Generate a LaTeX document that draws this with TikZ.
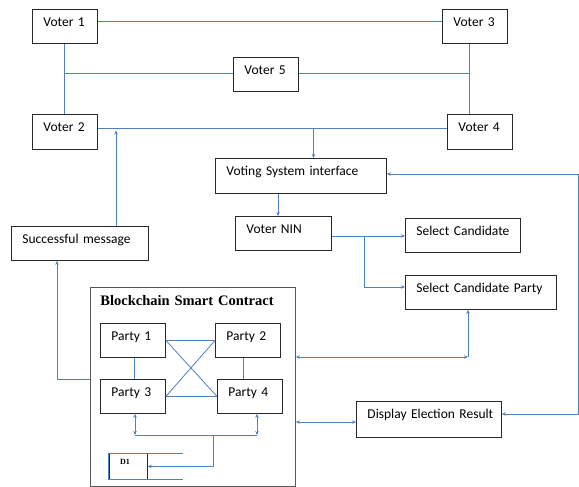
\documentclass[tikz,border=0pt]{standalone}
\usepackage{fontspec}
\setmainfont{Carlito}
\newfontfamily\timesfont{Liberation Serif}
\usetikzlibrary{arrows.meta}
\definecolor{lineblue}{RGB}{79,129,189}
\definecolor{boxgray}{RGB}{40,40,40}
\tikzset{
  bx/.style n args={2}{draw=boxgray, line width=0.9pt, anchor=north west,
    inner xsep=11pt, inner ysep=5.5pt, text height=12pt,
    text width=#1pt-22pt, text depth=#2pt-23pt, align=left,
    font=\fontsize{13.5}{15}\selectfont},
  bl/.style={draw=lineblue, line width=0.8pt},
  ar/.style={bl, -{Stealth[length=4pt,width=3.5pt]}},
  dar/.style={bl, {Stealth[length=4pt,width=3.5pt]}-{Stealth[length=4pt,width=3.5pt]}},
}
\begin{document}
\begin{tikzpicture}[x=1pt,y=-1pt]
\useasboundingbox (0,0) rectangle (579,487);
% boxes
\node[bx={65}{34}] (v1) at (32,9) {Voter 1};
\node[bx={65}{34}] (v3) at (442,9) {Voter 3};
\node[bx={65}{34}] (v5) at (233,57) {Voter 5};
\node[bx={65}{35}] (v2) at (32,114) {Voter 2};
\node[bx={65}{35}] (v4) at (447,114) {Voter 4};
\node[bx={171}{35}] (vsi) at (215,158) {\mbox{Voting System interface}};
\node[bx={96}{34}] (nin) at (235,216) {Voter NIN};
\node[bx={115}{34}] (sc) at (405,218) {\mbox{Select Candidate}};
\node[bx={151}{34}] (scp) at (405,275) {\mbox{Select Candidate Party}};
\node[bx={137}{34}] (sm) at (11,226) {\mbox{Successful message}};
\node[bx={207}{198}, draw=black!65, inner xsep=10pt, text height=12.5pt,
      font=\timesfont\bfseries\fontsize{14.5}{16}\selectfont] (bc) at (90,287) {\mbox{Blockchain Smart Contract}};
\node[bx={65}{34}] (p1) at (100,323) {Party 1};
\node[bx={65}{34}] (p2) at (215,323) {Party 2};
\node[bx={65}{34}] (p3) at (100,379) {Party 3};
\node[bx={65}{34}] (p4) at (217,379) {Party 4};
\node[bx={145}{36}] (disp) at (356,401) {\mbox{Display Election Result}};
\node[draw=boxgray, line width=0.8pt, anchor=north west, minimum width=38pt, minimum height=26pt,
      inner sep=0pt] (d1) at (109,453) {};
\node[anchor=base west, inner sep=0pt, font=\timesfont\bfseries\fontsize{8}{9}\selectfont] (d1t) at (120,464) {D1};
% voter network
\draw[bl] (v1.east |- 0,21) -- (v3.west |- 0,21);
\draw[bl] (v1.south -| 64,0) -- (v2.north -| 64,0);
\draw[bl] (64,73) -- (v5.west |- 0,73);
\draw[bl] (v5.east |- 0,73) -- (469,73);
\draw[bl] (v3.south -| 469,0) -- (v4.north -| 469,0);
\draw[bl] (v2.east |- 0,128) -- (v4.west |- 0,128);
\draw[ar] (313.5,128) -- (vsi.north -| 313.5,0);
\draw[ar] (sm.north -| 116,0) -- (116,130.5);
% interface flow
\draw[dar] (vsi.east |- 0,174) -- (578,174) -- (578,414) -- (disp.east |- 0,414);
\draw[ar] (vsi.south -| 278,0) -- (nin.north -| 278,0);
\draw[ar] (nin.east |- 0,236) -- (sc.west |- 0,236);
\draw[ar] (364.5,236) |- (scp.west |- 0,287);
\draw[dar] (bc.east |- 0,357) -- (468,357);
\draw[ar] (468,357) -- (scp.south -| 468,0);
\draw[dar] (bc.east |- 0,422) -- (disp.west |- 0,422);
\draw[ar] (bc.west |- 0,379) -| (sm.south -| 57,0);
% parties
\draw[bl] (p1.south -| 134,0) -- (p3.north -| 134,0);
\draw[bl] (p2.south -| 243,0) -- (p4.north -| 243,0);
\draw[bl] (p1.east) -- (p2.west);
\draw[bl] (p3.east) -- (p4.west);
\draw[bl] (p1.east) -- (p4.west);
\draw[bl] (p3.east) -- (p2.west);
\draw[dar] (p3.south -| 135,0) -- (135,435);
\draw[dar] (p4.south -| 257,0) -- (257,435);
\draw[bl] (135,435) -- (257,435);
\draw[ar] (213,435) |- (d1.east);
\draw[bl] (183,453) -- (108,453) -- (108,479) -- (183,479);
\end{tikzpicture}
\end{document}
